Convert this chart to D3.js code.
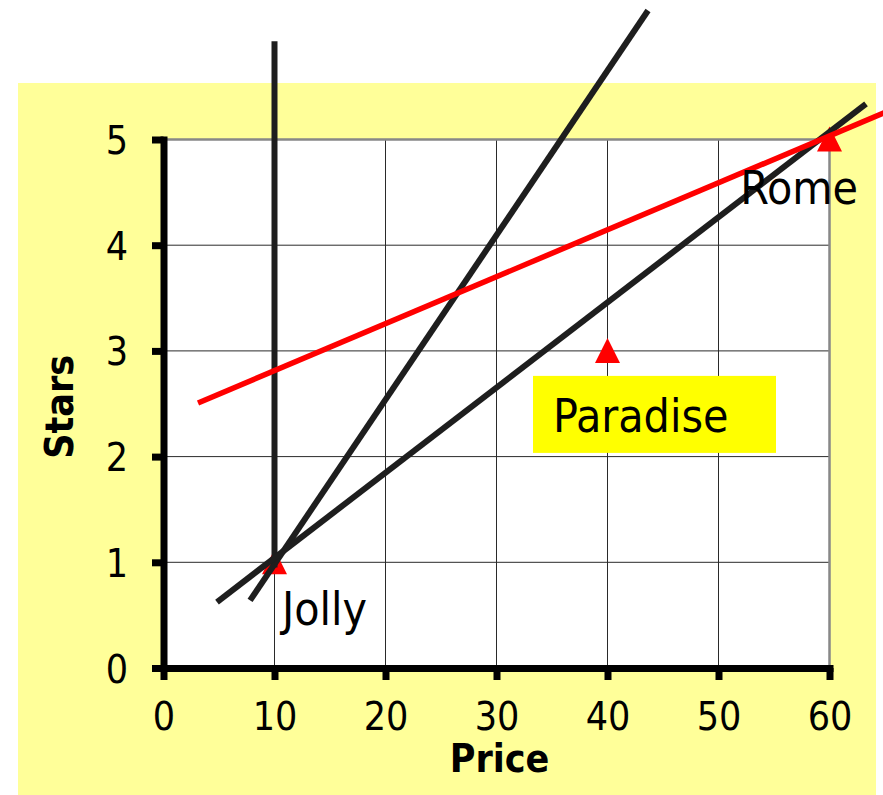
<!DOCTYPE html>
<html>
<head>
<meta charset="utf-8">
<script src="https://cdn.jsdelivr.net/npm/d3@7"></script>
<style>
  html, body { margin: 0; padding: 0; background: #ffffff; }
  svg { display: block; }
  text { font-family: 'DejaVu Sans Condensed', 'DejaVu Sans', sans-serif; font-stretch: condensed; fill: #000; }
</style>
</head>
<body>
<svg id="chart" width="883" height="795"></svg>
<script>
// Hotels: price against stars
const hotelNames = ["Jolly", "Paradise", "Rome"];
const hotelPrice = [10, 40, 60];
const hotelStars = [1, 3, 5];

// Straight lines drawn across the plot, as [price, stars] end points
const verticalLine = [[10, 0.95], [10, 5.93]];
const steepLine    = [[7.8, 0.64], [43.65, 6.22]];
const shallowLine  = [[4.82, 0.624], [63.29, 5.336]];
const redLine      = [[3.11, 2.507], [65.3, 5.27]];

const xTicks = [0, 10, 20, 30, 40, 50, 60];
const yTicks = [0, 1, 2, 3, 4, 5];
const xTitle = "Price";
const yTitle = "Stars";

const svg = d3.select("#chart");

const x = d3.scaleLinear().domain([0, 60]).range([163.5, 829.5]);
const y = d3.scaleLinear().domain([0, 5]).range([668, 139.5]);

// pale yellow chart area
svg.append("rect")
  .attr("x", 18).attr("y", 83)
  .attr("width", 858).attr("height", 712)
  .attr("fill", "#ffff99");

// white plot area
svg.append("rect")
  .attr("x", x(0)).attr("y", y(5))
  .attr("width", x(60) - x(0)).attr("height", y(0) - y(5))
  .attr("fill", "#ffffff");

// grid
const grid = svg.append("g").attr("stroke", "#2a2a2a").attr("stroke-width", 1);
grid.selectAll("line.gx").data(xTicks.slice(1, -1)).join("line")
  .attr("x1", d => x(d)).attr("x2", d => x(d))
  .attr("y1", y(0)).attr("y2", y(5));
grid.selectAll("line.gy").data(yTicks.slice(1, -1)).join("line")
  .attr("x1", x(0)).attr("x2", x(60))
  .attr("y1", d => y(d)).attr("y2", d => y(d));

// grey frame on top and right
svg.append("path")
  .attr("d", `M${x(0)},${y(5)}H${x(60)}V${y(0)}`)
  .attr("fill", "none").attr("stroke", "#888888").attr("stroke-width", 2.5);

// axes
const xAxis = svg.append("g")
  .attr("transform", `translate(0,${y(0)})`)
  .call(d3.axisBottom(x).tickValues(xTicks).tickFormat(d3.format("d"))
    .tickSize(12).tickSizeOuter(0).tickPadding(22));
const yAxis = svg.append("g")
  .attr("transform", `translate(${x(0)},0)`)
  .call(d3.axisLeft(y).tickValues(yTicks).tickFormat(d3.format("d"))
    .tickSize(11.5).tickSizeOuter(0).tickPadding(24));

[xAxis, yAxis].forEach(g => {
  g.select(".domain").attr("stroke", "#000").attr("stroke-width", 7).attr("stroke-linecap", "square");
  g.selectAll(".tick line").attr("stroke", "#000").attr("stroke-width", 7);
  g.selectAll(".tick text")
    .style("font-family", "'DejaVu Sans Condensed', 'DejaVu Sans', sans-serif")
    .style("font-stretch", "condensed")
    .attr("font-size", 39).attr("fill", "#000");
});
xAxis.selectAll(".tick text").attr("dy", "0.71em");
yAxis.selectAll(".tick text").attr("dy", "0.36em");

// axis titles
svg.append("text")
  .attr("x", (x(0) + x(60)) / 2 + 3).attr("y", 772)
  .attr("text-anchor", "middle")
  .attr("font-size", 39).attr("font-weight", "bold")
  .text(xTitle);
svg.append("text")
  .attr("transform", `translate(72.5,${(y(0) + y(5)) / 2 + 3}) rotate(-90)`)
  .attr("text-anchor", "middle")
  .attr("font-size", 39).attr("font-weight", "bold")
  .text(yTitle);

// hotel markers: red triangles
const tri = "M0,-13L12.5,12L-12.5,12Z";
svg.append("g").selectAll("path").data(hotelNames).join("path")
  .attr("d", tri)
  .attr("transform", (d, i) => `translate(${x(hotelPrice[i])},${y(hotelStars[i])})`)
  .attr("fill", "#ff0000");

// straight lines over the markers
const line = d3.line().x(d => x(d[0])).y(d => y(d[1]));
[verticalLine, steepLine, shallowLine].forEach(seg => {
  svg.append("path").attr("d", line(seg))
    .attr("fill", "none").attr("stroke", "#1e1e1e").attr("stroke-width", 6);
});
svg.append("path").attr("d", line(redLine))
  .attr("fill", "none").attr("stroke", "#ff0000").attr("stroke-width", 5.5);

// hotel labels
const labelOffsets = [
  { dx: 7.5, dy: 63, anchor: "start" },
  { dx: -54.5, dy: 81, anchor: "start", box: { dx: -74.5, dy: 25, w: 243, h: 77 } },
  { dx: 28.5, dy: 64, anchor: "end" }
];
hotelNames.forEach((name, i) => {
  const px = x(hotelPrice[i]), py = y(hotelStars[i]);
  const o = labelOffsets[i];
  if (o.box) {
    svg.append("rect")
      .attr("x", px + o.box.dx).attr("y", py + o.box.dy)
      .attr("width", o.box.w).attr("height", o.box.h)
      .attr("fill", "#ffff00");
  }
  svg.append("text")
    .attr("x", px + o.dx).attr("y", py + o.dy)
    .attr("text-anchor", o.anchor)
    .attr("font-size", 46)
    .text(name);
});
</script>
</body>
</html>
